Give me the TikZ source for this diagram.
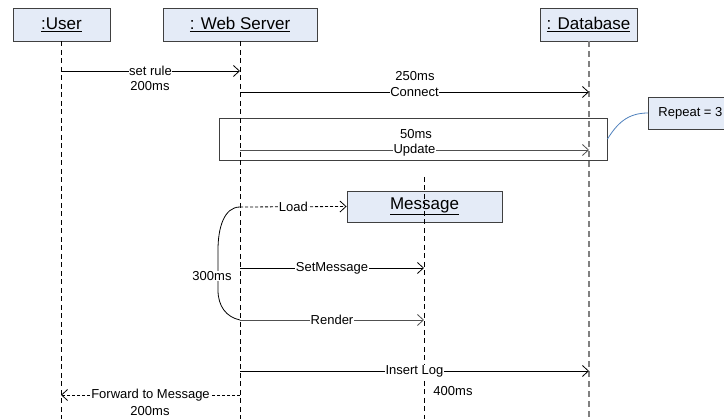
\documentclass[tikz,border=0pt]{standalone}
\usepackage{fontspec}
\setmainfont{Liberation Sans}
\usetikzlibrary{arrows.meta}
\definecolor{headfill}{HTML}{E4EBF7}
\definecolor{headline}{HTML}{404040}
\definecolor{notelink}{HTML}{4F81BD}
\definecolor{msggray}{HTML}{505050}

\begin{document}
\begin{tikzpicture}[x=1pt,y=-1pt,
  head/.style={draw=headline, fill=headfill, line width=0.9pt, minimum height=33pt,
    inner sep=0pt, font=\fontsize{17}{20}\selectfont},
  lifeline/.style={draw=black, line width=0.8pt, dash pattern=on 5pt off 3.5pt},
  dblifeline/.style={draw=gray, line width=1.4pt, dash pattern=on 6pt off 4pt},
  msg/.style={draw=black, line width=0.8pt, -{Straight Barb[length=6pt,width=11pt]}},
  reply/.style={msg, dash pattern=on 3pt off 2pt},
  lbl/.style={fill=white, inner sep=0.6pt, font=\fontsize{13}{15}\selectfont},
  txt/.style={inner sep=0.6pt, font=\fontsize{13}{15}\selectfont},
]
\clip (0,0) rectangle (724,419);
\fill[white] (0,0) rectangle (724,419);

% object heads
\node[head, minimum width=97pt]  (user) at (61.5,24.5)  {\underline{:User}};
\node[head, minimum width=154pt] (web)  at (240,24.5)   {\underline{: Web Server}};
\node[head, minimum width=97pt]  (db)   at (588.5,24.5) {\underline{: Database}};

% lifeline ends
\coordinate (userEnd) at (61,419);
\coordinate (webEnd)  at (240,419);
\coordinate (dbEnd)   at (589,419);
\coordinate (msgTop)  at (424,177);
\coordinate (msgEnd)  at (424,419);

% loop frame and its note
\node[draw=headline, line width=0.9pt, minimum width=388pt, minimum height=42pt,
  inner sep=0pt] (loop) at (413,139) {};
\node[head, anchor=west, minimum height=32pt, inner xsep=10pt,
  font=\fontsize{13}{15}\selectfont] (repeat) at (648,113) {Repeat = 3};
\draw[notelink, line width=0.8pt] (loop.east) .. controls (617,124) and (627,113) .. (repeat.west);

% Message object head
\node[head, minimum width=155pt, minimum height=31pt] (message) at (424.5,206.5) {\underline{Message}};

% lifelines
\draw[lifeline]   ([xshift=-0.5pt]user.south) -- (userEnd);
\draw[lifeline]   (web.south) -- (webEnd);
\draw[dblifeline] ([xshift=0.5pt]db.south) -- (dbEnd);
\draw[lifeline]   (msgTop) -- (msgEnd);

% message anchor points
\coordinate (u1) at (61,71);   \coordinate (w1) at (240,71);
\coordinate (w2) at (240,92);  \coordinate (d2) at (589,92);
\coordinate (w3) at (240,150); \coordinate (d3) at (589,150);
\coordinate (w4) at (240,207);
\coordinate (w5) at (240,268); \coordinate (m5) at (424,268);
\coordinate (w6) at (240,320); \coordinate (m6) at (424,320);
\coordinate (w7) at (240,371); \coordinate (d7) at (589,371);
\coordinate (w8) at (240,395); \coordinate (u8) at (61,395);

% timing bracket over Load .. Render
\draw[black, line width=0.8pt] (w4) .. controls (224,207) and (218,228) .. (218,250)
  -- (218,290) .. controls (218,306) and (226,317) .. (w6);
\node[lbl] (t300) at (212,276) {300ms};

% messages
\draw[msg] (u1) -- node[lbl] (setrule) {set rule} (w1);
\node[txt] (t200a) at (150,86) {200ms};

\draw[msg] (w2) -- node[lbl] (connect) {Connect} (d2);
\node[txt] (t250) at (415,76) {250ms};

\draw[msg, draw=msggray] (w3) -- node[lbl] (update) {Update} (d3);
\node[txt] (t50) at (416,134) {50ms};

\draw[reply] (w4) -- node[lbl] (load) {Load} (message.west);

\draw[msg] (w5) -- node[lbl] (setmsg) {SetMessage} (m5);
\draw[msg, draw=msggray] (w6) -- node[lbl] (render) {Render} (m6);

\draw[msg] (w7) -- node[lbl] (insertlog) {Insert Log} (d7);
\node[txt] (t400) at (453,391) {400ms};

\draw[reply] (w8) -- node[lbl] (forward) {Forward to Message} (u8);
\node[txt] (t200b) at (150,411) {200ms};
\end{tikzpicture}
\end{document}
